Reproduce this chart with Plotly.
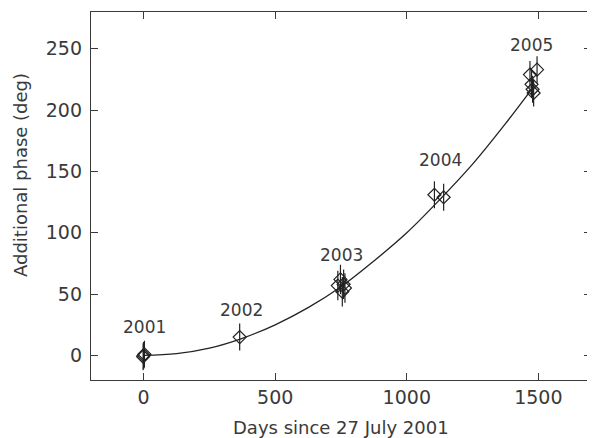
import plotly.graph_objects as go

# Measured points (days since 27 July 2001, additional phase in deg)
days = [0, 3, -2, 365, 738, 748, 755, 760, 765, 1105, 1140, 1468, 1474, 1478, 1482, 1495]
phase = [0, 1, -1, 15, 57, 62, 52, 58, 55, 131, 129, 229, 221, 217, 214, 233]
phase_err = [11, 11, 11, 11, 12, 12, 12, 12, 12, 11, 11, 11, 11, 11, 11, 11]

# Fitted curve
curve_days = [0, 125, 250, 375, 500, 625, 750, 875, 1000, 1125, 1250, 1375, 1485]
curve_phase = [0, 1.5, 6, 14, 25, 39, 56, 77, 100, 127, 156, 189, 220]

# Year labels
year_labels = ["2001", "2002", "2003", "2004", "2005"]
year_x = [5, 372, 753, 1129, 1472]
year_y = [23, 37, 82, 159, 253]

x_title = "Days since 27 July 2001"
y_title = "Additional phase (deg)"

ink = "#3a3a3a"
font_family = "DejaVu Sans, Liberation Sans, sans-serif"

fig = go.Figure()
fig.add_trace(go.Scatter(
    x=curve_days, y=curve_phase, mode="lines",
    line=dict(color="#222222", width=1.3, shape="spline"),
    hoverinfo="skip", showlegend=False))
fig.add_trace(go.Scatter(
    x=days, y=phase, mode="markers",
    marker=dict(symbol="diamond-open", size=10, color="#222222", line=dict(width=1.2)),
    error_y=dict(type="data", array=phase_err, visible=True, color="#222222", thickness=1.2, width=0),
    showlegend=False))

for t, xx, yy in zip(year_labels, year_x, year_y):
    fig.add_annotation(x=xx, y=yy, text=t, showarrow=False,
                       font=dict(size=17, color=ink, family=font_family))

fig.add_annotation(xref="paper", yref="paper", x=0.5, y=-0.128, yanchor="middle",
                   text=x_title, showarrow=False,
                   font=dict(size=18, color=ink, family=font_family))
fig.add_annotation(xref="paper", yref="paper", x=-0.142, y=0.557, xanchor="center",
                   yanchor="middle", text=y_title, textangle=-90, showarrow=False,
                   font=dict(size=18, color=ink, family=font_family))

axis_common = dict(
    showgrid=False, zeroline=False, showline=True, linecolor=ink, linewidth=1.3,
    mirror="ticks", ticks="inside", ticklen=7, tickcolor=ink, tickwidth=1,
    tickfont=dict(size=19, color=ink, family=font_family), automargin=False,
)
fig.update_xaxes(range=[-200, 1700], tickvals=[0, 500, 1000, 1500], **axis_common)
fig.update_yaxes(range=[-20, 280], tickvals=[0, 50, 100, 150, 200, 250],
                 ticklabelstandoff=4, **axis_common)
# page body has an 8px margin, so the figure is shrunk by that amount
fig.update_layout(
    width=587, height=430,
    margin=dict(l=83, r=4, t=4, b=58, autoexpand=False),
    paper_bgcolor="white", plot_bgcolor="white",
)
fig.write_html("out.html")
